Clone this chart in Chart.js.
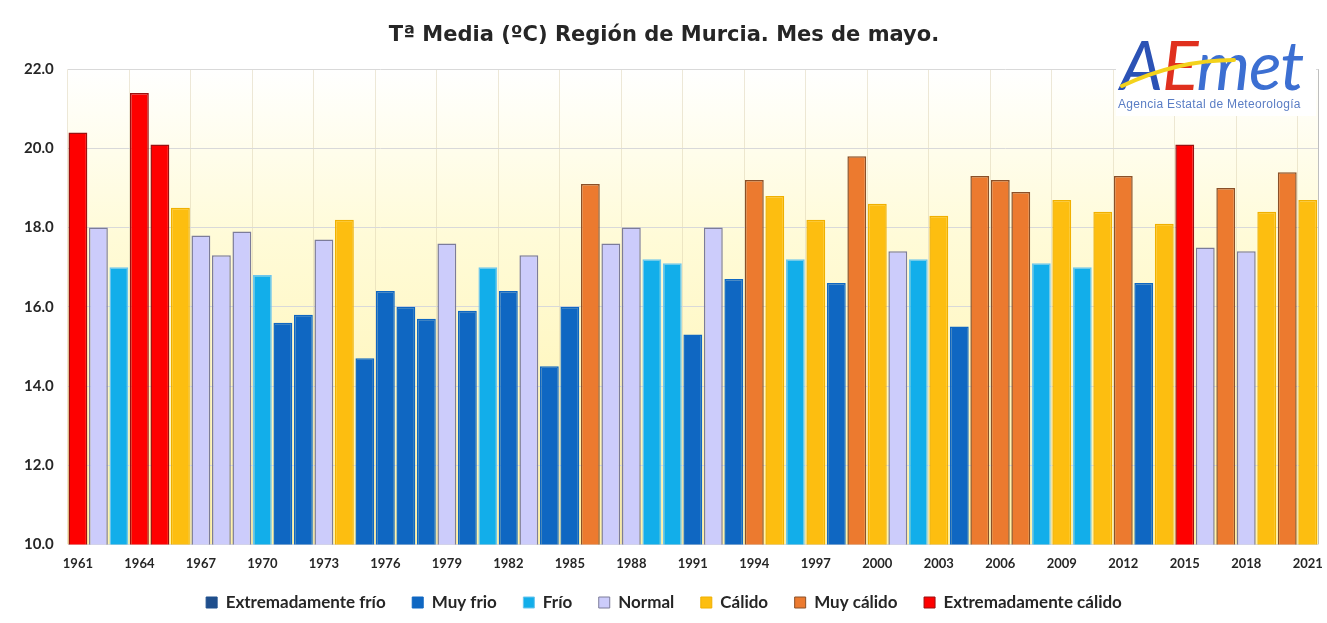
<!DOCTYPE html>
<html>
<head>
<meta charset="utf-8">
<script src="https://cdn.jsdelivr.net/npm/chart.js@4"></script>
<style>
  html, body { margin:0; padding:0; background:#fff; }
  #wrap { position:relative; width:1327px; height:623px; }
  #logo { position:absolute; left:1116px; top:30px; width:200px; height:86px; background:#fff; }
  #logo .word { position:absolute; left:4px; top:-6px; font-family:'Lato', sans-serif; font-style:italic; font-weight:400; font-size:68px; letter-spacing:-1px; line-height:80px; }
  #logo .sub { position:absolute; left:2px; top:67px; font-family:'Liberation Sans', sans-serif; font-size:12px; letter-spacing:0.3px; color:#5a7dc4; white-space:nowrap; }
</style>
</head>
<body>
<div id="wrap">
  <canvas id="c"></canvas>
  <div id="logo">
    <div class="word"><span style="color:#2b52b5">A</span><span style="color:#e0301e">E</span><span style="color:#3c6fd2">met</span></div>
    <svg width="200" height="70" style="position:absolute;left:0;top:0">
      <path d="M6 56 C 40 40, 80 30, 118 30" stroke="#f3d21c" stroke-width="4" fill="none" stroke-linecap="round"/>
    </svg>
    <div class="sub">Agencia Estatal de Meteorología</div>
  </div>
</div>
<script>
// Tª media de mayo, Región de Murcia
const years = ['1961','1962','1963','1964','1965','1966','1967','1968','1969','1970',
  '1971','1972','1973','1974','1975','1976','1977','1978','1979','1980',
  '1981','1982','1983','1984','1985','1986','1987','1988','1989','1990',
  '1991','1992','1993','1994','1995','1996','1997','1998','1999','2000',
  '2001','2002','2003','2004','2005','2006','2007','2008','2009','2010',
  '2011','2012','2013','2014','2015','2016','2017','2018','2019','2020','2021'];

const tmedia = [20.4,18.0,17.0,21.4,20.1,18.5,17.8,17.3,17.9,16.8,
  15.6,15.8,17.7,18.2,14.7,16.4,16.0,15.7,17.6,15.9,
  17.0,16.4,17.3,14.5,16.0,19.1,17.6,18.0,17.2,17.1,
  15.3,18.0,16.7,19.2,18.8,17.2,18.2,16.6,19.8,18.6,
  17.4,17.2,18.3,15.5,19.3,19.2,18.9,17.1,18.7,17.0,
  18.4,19.3,16.6,18.1,20.1,17.5,19.0,17.4,18.4,19.4,18.7];

// EF ext. frío, MF muy frío, F frío, N normal, C cálido, MC muy cálido, EC ext. cálido
const clase = ['EC','N','F','EC','EC','C','N','N','N','F',
  'MF','MF','N','C','MF','MF','MF','MF','N','MF',
  'F','MF','N','MF','MF','MC','N','N','F','F',
  'MF','N','MF','MC','C','F','C','MF','MC','C',
  'N','F','C','MF','MC','MC','MC','F','C','F',
  'C','MC','MF','C','EC','N','MC','N','C','MC','C'];

const claseKeys = ['EF','MF','F','N','C','MC','EC'];
const claseNames = ['Extremadamente frío','Muy frio','Frío','Normal','Cálido','Muy cálido','Extremadamente cálido'];

const fillOf = { EF:'#1f4e8c', MF:'#0f67c2', F:'#12aeea', N:'#ccccfb', C:'#fdbe10', MC:'#ec7a2f', EC:'#fe0000' };
const lineOf = { EF:'#1f4e8c', MF:'#0f67c2', F:'#6cc6ee', N:'#7c7c9a', C:'#f0b000', MC:'#8a5028', EC:'#9a1010' };

const bgPlugin = {
  id:'bgPlugin',
  beforeDraw(chart){
    const {ctx, chartArea:a} = chart;
    if(!a) return;
    const g = ctx.createLinearGradient(0, a.top, 0, a.bottom);
    g.addColorStop(0, '#ffffff');
    g.addColorStop(0.35, '#fffbd8');
    g.addColorStop(1, '#fff2a8');
    ctx.save();
    ctx.fillStyle = g;
    ctx.fillRect(a.left, a.top, a.right - a.left, a.bottom - a.top);
    ctx.restore();
  },
  afterDraw(chart){
    const {ctx, chartArea:a} = chart;
    ctx.save();
    ctx.strokeStyle = '#bfbfbf';
    ctx.lineWidth = 1;
    ctx.beginPath();
    ctx.moveTo(a.right + 0.5, a.top);
    ctx.lineTo(a.right + 0.5, a.bottom);
    ctx.stroke();
    ctx.restore();
  }
};

new Chart(document.getElementById('c'), {
  type:'bar',
  data:{
    labels: years,
    datasets:[{
      label:'Tª media',
      data: tmedia,
      backgroundColor: clase.map(k => fillOf[k]),
      borderColor: clase.map(k => lineOf[k]),
      borderWidth: 1.5,
      borderSkipped: 'bottom',
      barPercentage: 0.92,
      categoryPercentage: 1.0
    }]
  },
  options:{
    responsive:true,
    maintainAspectRatio:false,
    animation:false,
    layout:{ padding:{ left:10, right:9, top:0, bottom:2 } },
    plugins:{
      title:{
        display:true,
        text:'Tª Media (ºC) Región de Murcia. Mes de mayo.',
        color:'#262626',
        font:{ family:'DejaVu Sans', size:21, weight:'bold' },
        padding:{ top:23, bottom:21 }
      },
      legend:{
        position:'bottom',
        labels:{
          color:'#262626',
          font:{ family:'Lato', size:17, weight:'bold' },
          boxWidth:11, boxHeight:11, padding:10,
          generateLabels: () => claseKeys.map((k, i) => ({
            text: i < claseKeys.length - 1 ? claseNames[i] + '    ' : claseNames[i],
            fillStyle: fillOf[k],
            strokeStyle: lineOf[k],
            lineWidth: 1,
            fontColor:'#262626'
          }))
        },
        onClick: null
      },
      tooltip:{ enabled:false }
    },
    scales:{
      x:{
        afterFit: s => { s.paddingRight = 0; },
        grid:{
          offset:true,
          drawTicks:false,
          color: c => (c.index % 3 === 0) ? 'rgba(215,205,170,0.45)' : 'rgba(0,0,0,0)'
        },
        border:{ display:false },
        ticks:{
          autoSkip:false,
          maxRotation:0,
          padding:12,
          color:'#262626',
          font:{ family:'Lato', size:13, weight:'bold' },
          callback: (v, i) => (i % 3 === 0) ? years[i] : ''
        }
      },
      y:{
        min:10, max:22,
        ticks:{
          stepSize:2,
          padding:14,
          color:'#262626',
          font:{ family:'Lato', size:15, weight:'bold' },
          callback: v => Number(v).toFixed(1)
        },
        grid:{ color:'#d9d9d9', drawTicks:false },
        border:{ display:false }
      }
    }
  },
  plugins:[bgPlugin]
});
</script>
</body>
</html>
